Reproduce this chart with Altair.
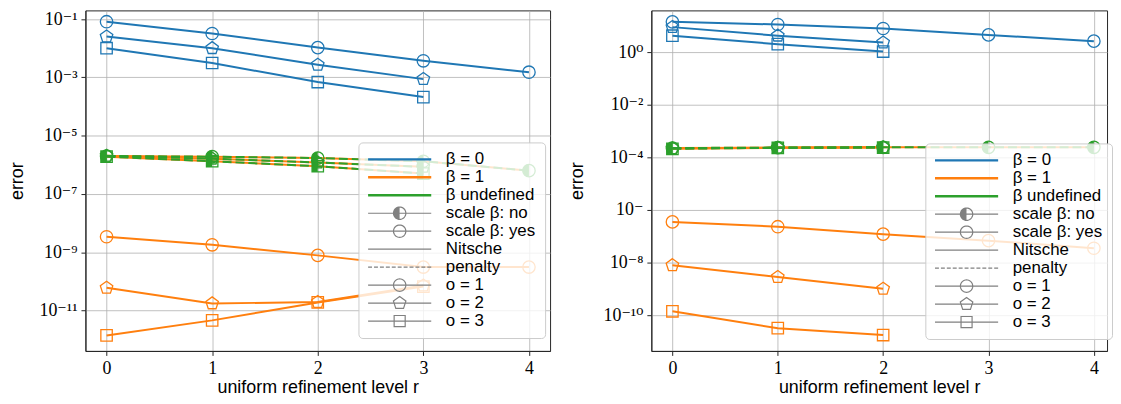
import math
import altair as alt
import pandas as pd

BLUE, ORANGE, GREEN, GRAY = "#1f77b4", "#ff7f0e", "#2ca02c", "#808080"
SERIF = "'Liberation Serif', 'Times New Roman', 'DejaVu Serif', serif"
SANS = "'Liberation Sans', Arial, 'DejaVu Sans', sans-serif"

levels = [0, 1, 2, 3, 4]

# ---------------- left panel ----------------
left_b0_o1 = [8.1e-2, 3.2e-2, 1.05e-2, 3.7e-3, 1.5e-3]
left_b0_o2 = [2.5e-2, 1.0e-2, 2.7e-3, 8.7e-4]
left_b0_o3 = [1.0e-2, 3.1e-3, 6.9e-4, 2.1e-4]
left_b1_o1 = [3.4e-9, 1.8e-9, 7.8e-10, 3.1e-10, 3.1e-10]
left_b1_o2 = [6.0e-11, 1.75e-11, 1.95e-11, 7.2e-11]
left_b1_o3 = [1.4e-12, 4.6e-12, 1.9e-11, 6.6e-11]
left_pen_o1 = [2.0e-6, 1.9e-6, 1.7e-6, 1.32e-6, 6.3e-7]
left_pen_o2 = [2.04e-6, 1.62e-6, 1.2e-6, 8.5e-7]
left_pen_o3 = [1.9e-6, 1.32e-6, 8.9e-7, 5.0e-7]

# ---------------- right panel ----------------
right_b0_o1 = [14.1, 11.2, 7.9, 4.5, 2.6]
right_b0_o2 = [8.9, 4.2, 2.3]
right_b0_o3 = [4.2, 2.0, 1.05]
right_b1_o1 = [3.5e-7, 2.3e-7, 1.2e-7, 6.8e-8, 3.5e-8]
right_b1_o2 = [7.9e-9, 2.8e-9, 1.0e-9]
right_b1_o3 = [1.4e-10, 3.2e-11, 1.75e-11]
right_pen_o1 = [2.25e-4, 2.35e-4, 2.4e-4, 2.4e-4, 2.4e-4]
right_pen_o2 = [2.2e-4, 2.3e-4, 2.4e-4]
right_pen_o3 = [2.1e-4, 2.3e-4, 2.35e-4]

left_exponents = [-1, -3, -5, -7, -9, -11]
left_tick_labels = ["10⁻¹", "10⁻³", "10⁻⁵", "10⁻⁷", "10⁻⁹", "10⁻¹¹"]
right_exponents = [0, -2, -4, -6, -8, -10]
right_tick_labels = ["10⁰", "10⁻²", "10⁻⁴", "10⁻", "10⁻⁸", "10⁻¹⁰"]

legend_labels = ["β = 0", "β = 1", "β undefined", "scale β: no", "scale β: yes",
                 "Nitsche", "penalty", "o = 1", "o = 2", "o = 3"]

series = [
    ("left", "0", "Nitsche", 1, left_b0_o1), ("left", "0", "Nitsche", 2, left_b0_o2),
    ("left", "0", "Nitsche", 3, left_b0_o3), ("left", "1", "Nitsche", 1, left_b1_o1),
    ("left", "1", "Nitsche", 2, left_b1_o2), ("left", "1", "Nitsche", 3, left_b1_o3),
    ("left", "1", "penalty", 1, left_pen_o1), ("left", "1", "penalty", 2, left_pen_o2),
    ("left", "1", "penalty", 3, left_pen_o3), ("left", "u", "penalty", 1, left_pen_o1),
    ("left", "u", "penalty", 2, left_pen_o2), ("left", "u", "penalty", 3, left_pen_o3),
    ("right", "0", "Nitsche", 1, right_b0_o1), ("right", "0", "Nitsche", 2, right_b0_o2),
    ("right", "0", "Nitsche", 3, right_b0_o3), ("right", "1", "Nitsche", 1, right_b1_o1),
    ("right", "1", "Nitsche", 2, right_b1_o2), ("right", "1", "Nitsche", 3, right_b1_o3),
    ("right", "1", "penalty", 1, right_pen_o1), ("right", "1", "penalty", 2, right_pen_o2),
    ("right", "1", "penalty", 3, right_pen_o3), ("right", "u", "penalty", 1, right_pen_o1),
    ("right", "u", "penalty", 2, right_pen_o2), ("right", "u", "penalty", 3, right_pen_o3),
]
rows = []
for panel_name, beta, method, order, vals in series:
    for r, v in zip(levels, vals):
        rows.append(dict(panel=panel_name, beta=beta, method=method, order=order, r=r, err=v))
df = pd.DataFrame(rows)


# ---------------- marker / legend symbol paths ----------------
def fmt(x, y):
    return f"{x:.4f},{y:.4f}"


def polygon(pts):
    return "M" + "L".join(fmt(x, y) for x, y in pts) + "Z"


def circle_pts(rad, n=36):
    return [(rad * math.cos(2 * math.pi * k / n), rad * math.sin(2 * math.pi * k / n)) for k in range(n)]


def pentagon_pts(rad):
    return [(rad * math.cos(math.radians(-90 + 72 * k)), rad * math.sin(math.radians(-90 + 72 * k))) for k in range(5)]


PENT = polygon(pentagon_pts(1.0))
HALF_CIRCLE = polygon([(math.cos(math.radians(a)), math.sin(math.radians(a))) for a in range(90, 271, 10)])
p = pentagon_pts(1.0)
HALF_PENT = polygon([(0, -1), p[4], p[3], (0, p[3][1])])
HALF_SQUARE = polygon([(0, -1), (-1, -1), (-1, 1), (0, 1)])
OPEN_SHAPE = {1: "circle", 2: PENT, 3: "square"}
HALF_SHAPE = {1: HALF_CIRCLE, 2: HALF_PENT, 3: HALF_SQUARE}
MSIZE = {1: 156, 2: 175, 3: 132}

# legend symbols: unit half-width 1 spans half of the symbol box
LEG_SIZE = 4045
k_s = 1.2
LINE = "M-1,0L1,0"
tw = 0.022 / k_s
THICK = f"M-1,{-tw:.4f}L1,{-tw:.4f}M-1,{tw:.4f}L1,{tw:.4f}"
dash_parts = []
xx = -1.0
while xx < 1.0:
    dash_parts.append(f"M{xx:.3f},0L{min(xx + 0.15 / k_s, 1.0):.3f},0")
    xx += 0.225 / k_s
DASHED = "".join(dash_parts)
mr = 0.235 / k_s
LEG_CIRCLE = LINE + polygon(circle_pts(mr))
hatch = []
hx = -mr
while hx <= 0.0001:
    hh = math.sqrt(max(mr * mr - hx * hx, 0))
    hatch.append(f"M{hx:.4f},{-hh:.4f}L{hx:.4f},{hh:.4f}")
    hx += 0.03 / k_s
LEG_HALF = LEG_CIRCLE + "".join(hatch)
LEG_PENT = LINE + polygon(pentagon_pts(0.25 / k_s))
sq = 0.21 / k_s
LEG_SQUARE = LINE + polygon([(-sq, -sq), (sq, -sq), (sq, sq), (-sq, sq)])

legend_colors = [BLUE, ORANGE, GREEN] + [GRAY] * 7
legend_paths = [THICK, THICK, THICK, LEG_HALF, LEG_CIRCLE, LINE, DASHED, LEG_CIRCLE, LEG_PENT, LEG_SQUARE]
legend_df = pd.DataFrame({"entry": legend_labels})


def label_expr(exps, labels):
    expr = "''"
    for e, lab in zip(reversed(exps), reversed(labels)):
        expr = f"abs(log(datum.value)/LN10 - ({e})) < 0.01 ? '{lab}' : ({expr})"
    return expr


def make_panel(name, xdom, width, ydom, exps, labels, leg_x, leg_y, ytitle_pad):
    d = df[df.panel == name]
    x = alt.X("r:Q", scale=alt.Scale(domain=xdom, nice=False, zero=False),
              axis=alt.Axis(values=levels, format="d", title="uniform refinement level r"))
    y = alt.Y("err:Q", scale=alt.Scale(type="log", domain=ydom, nice=False),
              axis=alt.Axis(values=[10.0 ** e for e in exps], labelExpr=label_expr(exps, labels),
                            title="error", titlePadding=ytitle_pad))
    base = alt.Chart(d).encode(x=x, y=y)
    stroke = alt.Stroke("beta:N", scale=alt.Scale(domain=["0", "1", "u"], range=[BLUE, ORANGE, GREEN]),
                        legend=None)
    solid = base.transform_filter("datum.method == 'Nitsche'").mark_line(strokeWidth=2).encode(
        stroke=stroke, detail="order:N")
    under = base.transform_filter("datum.method == 'penalty' && datum.beta == '1'").mark_line(
        strokeWidth=2, color=ORANGE).encode(detail="order:N")
    dashed = base.transform_filter("datum.beta == 'u'").mark_line(
        strokeWidth=2, color=GREEN, strokeDash=[9, 4]).encode(detail="order:N")
    halves = [base.transform_filter(f"datum.beta == 'u' && datum.order == {k}").mark_point(
        filled=True, shape=HALF_SHAPE[k], size=MSIZE[k], fill=GREEN, opacity=1, strokeWidth=0)
        for k in (1, 2, 3)]
    opens = [base.transform_filter(
        f"!(datum.method == 'penalty' && datum.beta == '1') && datum.order == {k}").mark_point(
        filled=False, shape=OPEN_SHAPE[k], size=MSIZE[k], strokeWidth=1.3, opacity=1).encode(stroke=stroke)
        for k in (1, 2, 3)]
    leg = alt.Legend(title=None, orient="none", legendX=leg_x, legendY=leg_y, padding=9,
                     symbolSize=LEG_SIZE, symbolStrokeWidth=1.2, symbolOpacity=1, clipHeight=16,
                     rowPadding=1.1, labelFont=SANS, labelFontSize=17, labelColor="black",
                     labelOffset=14, labelLimit=250, fillColor="rgba(255,255,255,0.8)",
                     strokeColor="#cccccc", cornerRadius=4, zindex=1)
    dummy = alt.Chart(legend_df).mark_point(filled=False, opacity=0).encode(
        color=alt.Color("entry:N", scale=alt.Scale(domain=legend_labels, range=legend_colors), legend=leg),
        shape=alt.Shape("entry:N", scale=alt.Scale(domain=legend_labels, range=legend_paths), legend=leg),
    )
    return alt.layer(solid, under, dashed, *halves, *opens, dummy).properties(width=width, height=343)


left = make_panel("left", [-0.2, 4.2], 468, [10 ** -12.386, 10 ** -0.703],
                  left_exponents, left_tick_labels, 275, 133, 9)
right = make_panel("right", [-0.2, 4.125], 459, [10 ** -11.36, 10 ** 1.585],
                   right_exponents, right_tick_labels, 276, 134, 15)

chart = alt.hconcat(left, right, spacing=102, bounds="flush").resolve_scale(
    color="independent", shape="independent", stroke="independent", x="independent", y="independent"
).resolve_legend(color="independent", shape="independent").configure_view(
    stroke="#262626", strokeWidth=1
).configure_axis(
    grid=True, gridColor="#b0b0b0", gridWidth=0.8, domainColor="#262626", tickColor="#262626",
    tickSize=4.5, labelFont=SERIF, labelFontSize=18, labelColor="black",
    titleFont=SANS, titleFontSize=18, titleFontWeight="normal", titleColor="black"
).configure_axisY(labelPadding=4, minExtent=50, maxExtent=50
).configure_axisX(labelPadding=4, titlePadding=1
).properties(padding={"left": 0, "top": 0, "right": 0, "bottom": 0})

chart.save("out.html", embed_options={"renderer": "svg", "actions": False})
